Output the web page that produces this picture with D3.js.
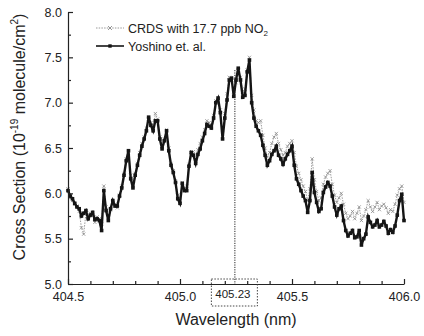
<!DOCTYPE html>
<html>
<head>
<meta charset="utf-8">
<script src="https://cdn.jsdelivr.net/npm/d3@7"></script>
<style>
  body { margin: 0; background: #fff; }
  text { font-family: "Liberation Sans", Arial, sans-serif; fill: #222; }
</style>
</head>
<body>
<svg id="chart" width="424" height="336"></svg>
<script>
// wavelength grid, 0.01 nm steps from 404.50 to 406.00
const wlStart = 404.5
const wlStep = 0.01

// Yoshino et al. cross section (1e-19 molecule/cm2)
const yoshino = [
  6.03, 5.97, 5.94, 5.89, 5.85, 5.83, 5.75, 5.78, 5.81, 5.72,
  5.76, 5.79, 5.71, 5.72, 5.70, 5.59, 6.03, 5.81, 5.70, 5.83,
  5.92, 5.86, 5.86, 5.97, 6.06, 6.20, 6.36, 6.47, 6.16, 6.06,
  6.20, 6.31, 6.42, 6.52, 6.60, 6.69, 6.84, 6.75, 6.69, 6.80,
  6.80, 6.60, 6.49, 6.58, 6.69, 6.47, 6.31, 6.23, 6.12, 5.94,
  5.89, 6.11, 6.03, 6.03, 6.30, 6.45, 6.42, 6.33, 6.43, 6.49,
  6.58, 6.66, 6.76, 6.74, 6.72, 6.83, 7.00, 7.05, 6.89, 6.60,
  6.83, 7.03, 7.25, 7.27, 7.07, 7.25, 7.38, 7.25, 7.06, 7.08,
  7.34, 7.47, 7.00, 6.83, 6.74, 6.69, 6.64, 6.53, 6.42, 6.31,
  6.36, 6.43, 6.47, 6.52, 6.42, 6.38, 6.32, 6.38, 6.43, 6.47,
  6.52, 6.31, 6.16, 6.10, 6.03, 5.97, 5.92, 5.79, 5.92, 6.23,
  6.01, 5.90, 5.80, 5.83, 6.01, 6.07, 6.12, 6.08, 5.97, 5.85,
  5.76, 5.83, 5.86, 5.70, 5.59, 5.53, 5.56, 5.59, 5.51, 5.52,
  5.59, 5.43, 5.50, 5.55, 5.74, 5.68, 5.63, 5.65, 5.70, 5.63,
  5.65, 5.69, 5.64, 5.56, 5.60, 5.57, 5.64, 5.76, 5.92, 5.99,
  5.70
]

// CRDS with 17.7 ppb NO2
const crds = [
  6.05, 5.95, 5.92, 5.88, 5.86, 5.80, 5.62, 5.55, 5.78, 5.74,
  5.78, 5.75, 5.68, 5.74, 5.72, 5.66, 6.08, 5.85, 5.74, 5.82,
  5.90, 5.88, 5.84, 5.98, 6.08, 6.22, 6.38, 6.45, 6.20, 6.10,
  6.22, 6.33, 6.45, 6.55, 6.62, 6.72, 6.82, 6.78, 6.72, 6.88,
  6.82, 6.62, 6.52, 6.60, 6.70, 6.50, 6.33, 6.25, 6.14, 5.98,
  5.92, 6.12, 6.05, 6.08, 6.32, 6.45, 6.46, 6.38, 6.48, 6.55,
  6.62, 6.70, 6.80, 6.78, 6.75, 6.86, 7.02, 7.05, 6.92, 6.66,
  6.88, 7.10, 7.28, 7.25, 7.12, 7.22, 7.36, 7.28, 7.12, 7.15,
  7.36, 7.50, 7.08, 6.92, 6.80, 6.78, 6.80, 6.64, 6.50, 6.40,
  6.45, 6.55, 6.62, 6.66, 6.55, 6.48, 6.42, 6.45, 6.52, 6.55,
  6.58, 6.45, 6.30, 6.22, 6.15, 6.08, 6.02, 5.92, 6.05, 6.38,
  6.15, 6.02, 5.92, 5.95, 6.10, 6.18, 6.22, 6.25, 6.10, 5.98,
  5.90, 5.95, 6.00, 5.88, 5.78, 5.72, 5.75, 5.80, 5.72, 5.78,
  5.85, 5.70, 5.75, 5.82, 5.92, 5.85, 5.80, 5.85, 5.90, 5.82,
  5.86, 5.88, 5.84, 5.78, 5.82, 5.80, 5.88, 5.98, 6.05, 6.08,
  5.90
]

const xTicks = [404.5, 405.0, 405.5, 406.0]
const yTicks = [5.0, 5.5, 6.0, 6.5, 7.0, 7.5, 8.0]
const peakWl = 405.245   // where the dotted marker line sits in the picture
const peakTop = 7.36
const peakLabel = "405.23"

const margin = { left: 68, right: 20, top: 12, bottom: 52 }
const width = 424
const height = 336

const svg = d3.select("#chart")

const x = d3.scaleLinear().domain([404.5, 406]).range([margin.left, width - margin.right])
const y = d3.scaleLinear().domain([5, 8]).range([height - margin.bottom, margin.top])

const pts = (arr) => arr.map((v, i) => ({ wl: wlStart + i * wlStep, v: v }))
const crdsPts = pts(crds)
const yoshPts = pts(yoshino)

const line = d3.line().x(d => x(d.wl)).y(d => y(d.v))

// CRDS: grey dotted line with little x markers
svg.append("path")
  .datum(crdsPts)
  .attr("fill", "none")
  .attr("stroke", "#9a9a9a")
  .attr("stroke-width", 1)
  .attr("stroke-dasharray", "1.5,1.2")
  .attr("d", line)

svg.append("g")
  .selectAll("path")
  .data(crdsPts)
  .enter()
  .append("path")
  .attr("transform", d => `translate(${x(d.wl)},${y(d.v)})`)
  .attr("d", "M-1.6,-1.6L1.6,1.6M-1.6,1.6L1.6,-1.6")
  .attr("stroke", "#8a8a8a")
  .attr("stroke-width", 0.8)

// Yoshino: black line with square dots
svg.append("path")
  .datum(yoshPts)
  .attr("fill", "none")
  .attr("stroke", "#151515")
  .attr("stroke-width", 2.4)
  .attr("d", line)

svg.append("g")
  .selectAll("rect")
  .data(yoshPts)
  .enter()
  .append("rect")
  .attr("x", d => x(d.wl) - 1.8)
  .attr("y", d => y(d.v) - 1.8)
  .attr("width", 3.6)
  .attr("height", 3.6)
  .attr("fill", "#151515")

// axes, ticks pointing inward
const fmt = d3.format(".1f")
const xAxis = svg.append("g")
  .attr("transform", `translate(0,${y(5)})`)
  .call(d3.axisBottom(x).tickValues(xTicks).tickFormat(fmt).tickSize(-5).tickSizeOuter(0).tickPadding(8))
svg.append("g")
  .attr("transform", `translate(0,${y(5)})`)
  .call(d3.axisBottom(x).tickValues(d3.range(4046, 4060).map(d => d / 10).filter(d => !xTicks.includes(d))).tickFormat("").tickSize(-3).tickSizeOuter(0))
  .select(".domain").remove()

const yAxis = svg.append("g")
  .attr("transform", `translate(${x(404.5)},0)`)
  .call(d3.axisLeft(y).tickValues(yTicks).tickFormat(fmt).tickSize(-5).tickSizeOuter(0).tickPadding(6))
svg.append("g")
  .attr("transform", `translate(${x(404.5)},0)`)
  .call(d3.axisLeft(y).tickValues([5.25, 5.75, 6.25, 6.75, 7.25, 7.75]).tickFormat("").tickSize(-3).tickSizeOuter(0))
  .select(".domain").remove()

svg.selectAll(".domain, .tick line").attr("stroke", "#222").attr("stroke-width", 1.2)
xAxis.selectAll("text").attr("font-size", 12.5).attr("fill", "#222")
yAxis.selectAll("text").attr("font-size", 12.5).attr("fill", "#222")

// marker line + boxed label for the peak
svg.append("line")
  .attr("x1", x(peakWl)).attr("x2", x(peakWl))
  .attr("y1", y(peakTop)).attr("y2", y(5))
  .attr("stroke", "#222")
  .attr("stroke-width", 1)
  .attr("stroke-dasharray", "1.2,1.2")

svg.append("rect")
  .attr("x", x(peakWl) - 23.5)
  .attr("y", y(5) - 5)
  .attr("width", 46)
  .attr("height", 27)
  .attr("fill", "none")
  .attr("stroke", "#333")
  .attr("stroke-width", 0.9)
  .attr("stroke-dasharray", "1.5,1.5")

svg.append("text")
  .attr("x", x(peakWl) - 2)
  .attr("y", y(5) + 14)
  .attr("text-anchor", "middle")
  .attr("font-size", 11.5)
  .text(peakLabel)

// axis titles
svg.append("text")
  .attr("x", 236)
  .attr("y", 325)
  .attr("text-anchor", "middle")
  .attr("font-size", 16)
  .text("Wavelength (nm)")

const yTitle = svg.append("text")
  .attr("transform", "translate(25,137) rotate(-90)")
  .attr("text-anchor", "middle")
  .attr("font-size", 16)
yTitle.append("tspan").text("Cross Section (10")
yTitle.append("tspan").attr("font-size", 10).attr("dy", -7).text("-19")
yTitle.append("tspan").attr("dy", 7).text(" molecule/cm")
yTitle.append("tspan").attr("font-size", 10).attr("dy", -7).text("2")
yTitle.append("tspan").attr("dy", 7).text(")")

// legend
const legend = svg.append("g")
const l1 = 28, l2 = 46
legend.append("line").attr("x1", 96).attr("x2", 124).attr("y1", l1).attr("y2", l1)
  .attr("stroke", "#9a9a9a").attr("stroke-width", 1).attr("stroke-dasharray", "1.5,1.2")
legend.append("path").attr("transform", `translate(110,${l1})`)
  .attr("d", "M-2,-2L2,2M-2,2L2,-2").attr("stroke", "#8a8a8a").attr("stroke-width", 0.9)
legend.append("line").attr("x1", 96).attr("x2", 124).attr("y1", l2).attr("y2", l2)
  .attr("stroke", "#151515").attr("stroke-width", 1.6)
legend.append("rect").attr("x", 108.3).attr("y", l2 - 1.7).attr("width", 3.4).attr("height", 3.4).attr("fill", "#151515")

const t1 = legend.append("text").attr("x", 128).attr("y", l1 + 4.5).attr("font-size", 12.5)
t1.append("tspan").text("CRDS with 17.7 ppb NO")
t1.append("tspan").attr("font-size", 8).attr("dy", 3).text("2")
legend.append("text").attr("x", 128).attr("y", l2 + 4.5).attr("font-size", 12.5).text("Yoshino et. al.")
</script>
</body>
</html>
